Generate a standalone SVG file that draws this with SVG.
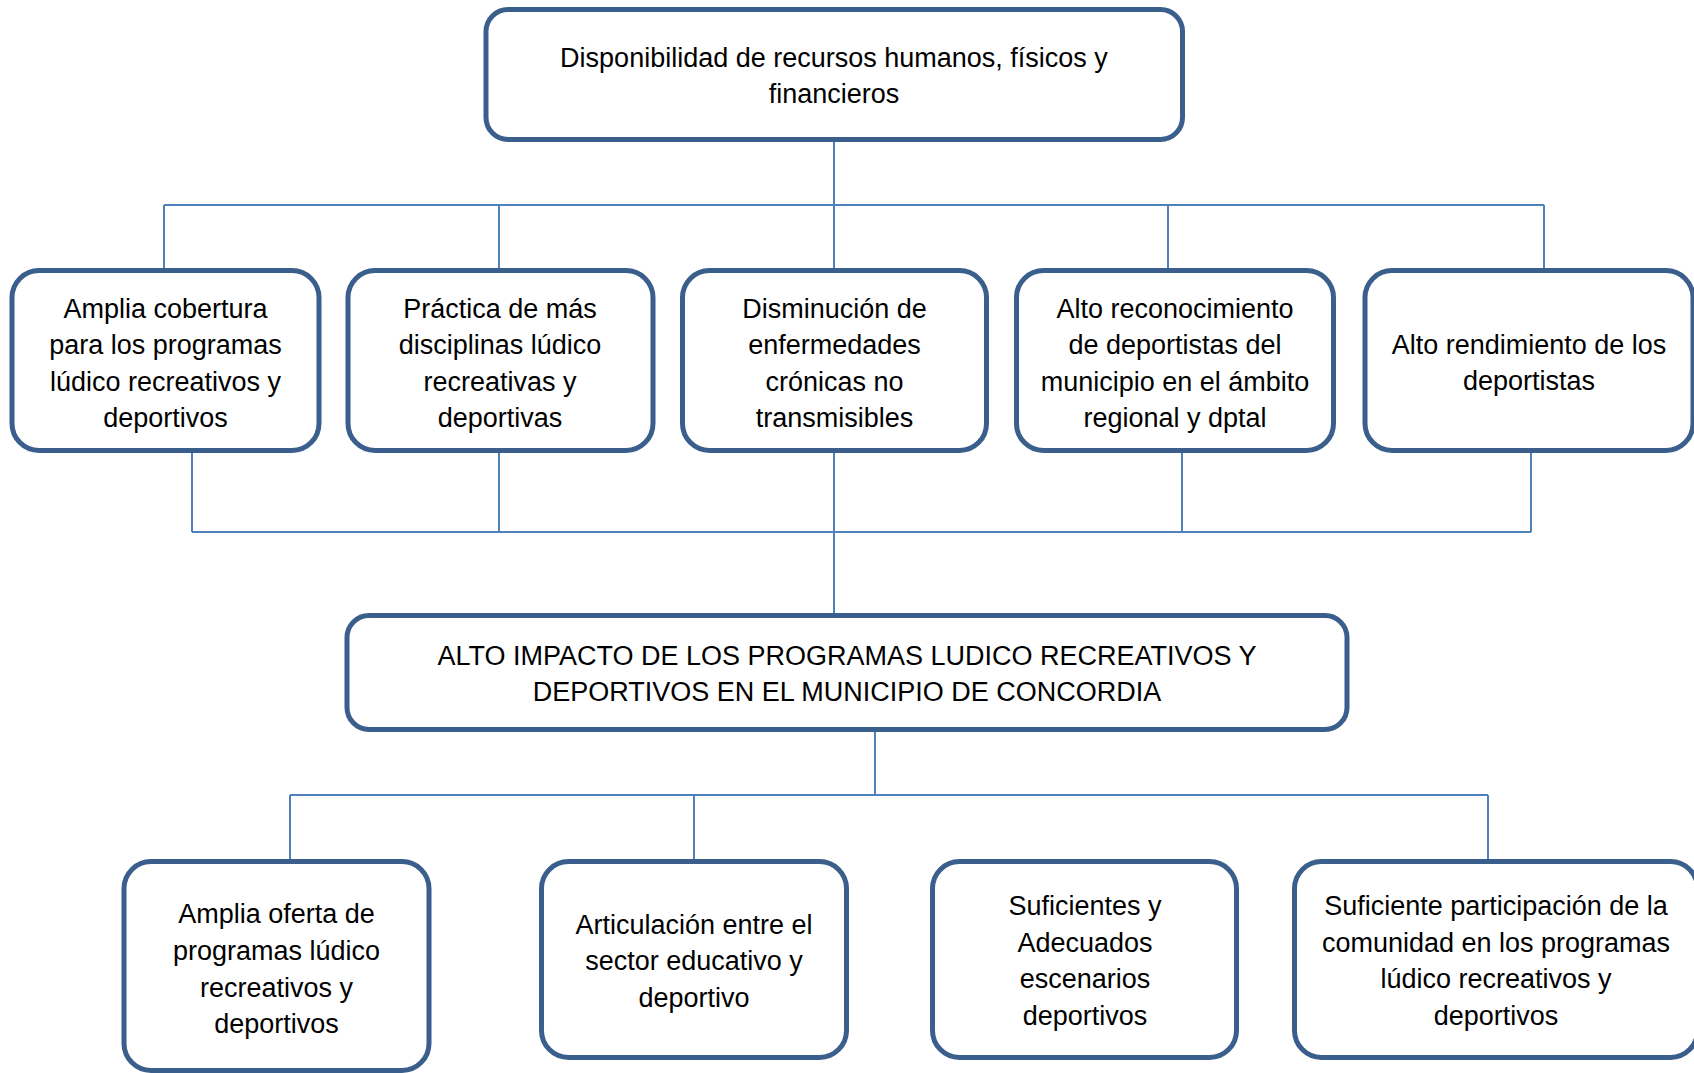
<svg xmlns="http://www.w3.org/2000/svg" width="1694" height="1073" viewBox="0 0 1694 1073">
<style>
.box{fill:#ffffff;stroke:#3B5F8C;stroke-width:5}
.t{font-family:"Liberation Sans",Arial,sans-serif;font-size:27px;fill:#000000;text-anchor:middle}
.c{fill:none;stroke:#4F81BD;stroke-width:2}
</style>
<rect width="1694" height="1073" fill="#ffffff"/>
<g id="connectors">
<path class="c" d="M834,142 V205 M164,205 H1544 M164,205 V268 M499,205 V268 M834,205 V268 M1168,205 V268 M1544,205 V268"/>
<path class="c" d="M192,453 V532 M499,453 V532 M834,453 V613 M1182,453 V532 M1531,453 V532 M192,532 H1531"/>
<path class="c" d="M875,732 V795 M290,795 H1488 M290,795 V859 M694,795 V859 M1488,795 V859"/>
</g>
<g id="n-top">
<rect class="box" x="486" y="9.5" width="696.5" height="130" rx="22"/>
<text class="t" x="834" y="66.5">Disponibilidad de recursos humanos, físicos y</text>
<text class="t" x="834" y="102.5">financieros</text>
</g>
<g id="n-cobertura">
<rect class="box" x="12" y="270.5" width="307" height="180" rx="27"/>
<text class="t" x="165.5" y="317.5">Amplia cobertura</text>
<text class="t" x="165.5" y="354">para los programas</text>
<text class="t" x="165.5" y="390.5">lúdico recreativos y</text>
<text class="t" x="165.5" y="427">deportivos</text>
</g>
<g id="n-practica">
<rect class="box" x="348" y="270.5" width="305" height="180" rx="27"/>
<text class="t" x="500" y="317.5">Práctica de más</text>
<text class="t" x="500" y="354">disciplinas lúdico</text>
<text class="t" x="500" y="390.5">recreativas y</text>
<text class="t" x="500" y="427">deportivas</text>
</g>
<g id="n-disminucion">
<rect class="box" x="682.5" y="270.5" width="304" height="180" rx="27"/>
<text class="t" x="834.5" y="317.5">Disminución de</text>
<text class="t" x="834.5" y="354">enfermedades</text>
<text class="t" x="834.5" y="390.5">crónicas no</text>
<text class="t" x="834.5" y="427">transmisibles</text>
</g>
<g id="n-reconocimiento">
<rect class="box" x="1016.5" y="270.5" width="317" height="180" rx="27"/>
<text class="t" x="1175" y="317.5">Alto reconocimiento</text>
<text class="t" x="1175" y="354">de deportistas del</text>
<text class="t" x="1175" y="390.5">municipio en el ámbito</text>
<text class="t" x="1175" y="427">regional y dptal</text>
</g>
<g id="n-rendimiento">
<rect class="box" x="1365" y="270.5" width="328" height="180" rx="27"/>
<text class="t" x="1529" y="353.5">Alto rendimiento de los</text>
<text class="t" x="1529" y="389.5">deportistas</text>
</g>
<g id="n-impacto">
<rect class="box" x="347" y="615.5" width="1000" height="114" rx="22"/>
<text class="t" x="847" y="664.5">ALTO IMPACTO DE LOS PROGRAMAS LUDICO RECREATIVOS Y</text>
<text class="t" x="847" y="701">DEPORTIVOS EN EL MUNICIPIO DE CONCORDIA</text>
</g>
<g id="n-oferta">
<rect class="box" x="124" y="861.5" width="305" height="209" rx="27"/>
<text class="t" x="276.5" y="923">Amplia oferta de</text>
<text class="t" x="276.5" y="960">programas lúdico</text>
<text class="t" x="276.5" y="996.5">recreativos y</text>
<text class="t" x="276.5" y="1033">deportivos</text>
</g>
<g id="n-articulacion">
<rect class="box" x="541.5" y="861.5" width="305" height="196" rx="27"/>
<text class="t" x="694" y="933.5">Articulación entre el</text>
<text class="t" x="694" y="970">sector educativo y</text>
<text class="t" x="694" y="1006.5">deportivo</text>
</g>
<g id="n-escenarios">
<rect class="box" x="932.5" y="861.5" width="304" height="196" rx="27"/>
<text class="t" x="1085" y="915">Suficientes y</text>
<text class="t" x="1085" y="951.5">Adecuados</text>
<text class="t" x="1085" y="988">escenarios</text>
<text class="t" x="1085" y="1024.5">deportivos</text>
</g>
<g id="n-participacion">
<rect class="box" x="1294.5" y="861.5" width="403" height="196" rx="27"/>
<text class="t" x="1496" y="915">Suficiente participación de la</text>
<text class="t" x="1496" y="951.5">comunidad en los programas</text>
<text class="t" x="1496" y="988">lúdico recreativos y</text>
<text class="t" x="1496" y="1024.5">deportivos</text>
</g>
</svg>
